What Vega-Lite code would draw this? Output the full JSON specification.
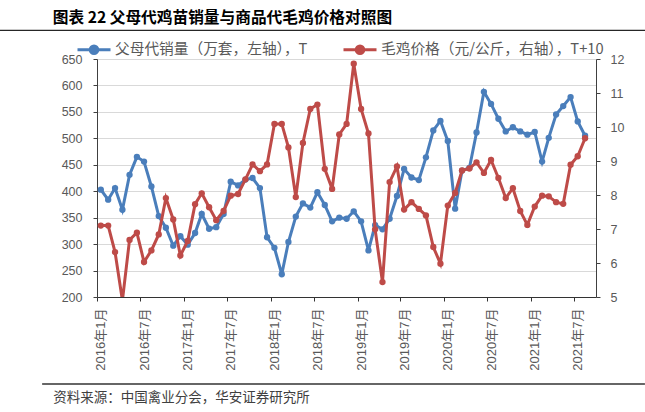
{
  "$schema": "https://vega.github.io/schema/vega-lite/v6.json",
  "width": 499,
  "height": 238,
  "autosize": "none",
  "padding": {"left": 97, "top": 59, "right": 49, "bottom": 115},
  "config": {"view": {"stroke": null}, "font": "Liberation Sans"},
  "title": {
    "text": "图表 22 父母代鸡苗销量与商品代毛鸡价格对照图",
    "anchor": "start",
    "frame": "group",
    "dx": -44.3,
    "dy": 3,
    "font": "Noto Sans CJK SC",
    "fontSize": 15.7,
    "fontWeight": "bold",
    "color": "#000000",
    "offset": 6
  },
  "data": {
    "values": [
      {"m": "2016-01-01", "sales": 403, "price": 7.10},
      {"m": "2016-02-01", "sales": 384, "price": 7.10},
      {"m": "2016-03-01", "sales": 406, "price": 6.32},
      {"m": "2016-04-01", "sales": 365, "price": 4.9},
      {"m": "2016-05-01", "sales": 431, "price": 6.68},
      {"m": "2016-06-01", "sales": 465, "price": 6.89},
      {"m": "2016-07-01", "sales": 456, "price": 6.03},
      {"m": "2016-08-01", "sales": 409, "price": 6.37},
      {"m": "2016-09-01", "sales": 353, "price": 6.84},
      {"m": "2016-10-01", "sales": 331, "price": 7.91},
      {"m": "2016-11-01", "sales": 297, "price": 7.28},
      {"m": "2016-12-01", "sales": 315, "price": 6.22},
      {"m": "2017-01-01", "sales": 299, "price": 6.65},
      {"m": "2017-02-01", "sales": 321, "price": 7.73},
      {"m": "2017-03-01", "sales": 357, "price": 8.05},
      {"m": "2017-04-01", "sales": 329, "price": 7.64},
      {"m": "2017-05-01", "sales": 332, "price": 7.26},
      {"m": "2017-06-01", "sales": 357, "price": 7.53},
      {"m": "2017-07-01", "sales": 418, "price": 7.98},
      {"m": "2017-08-01", "sales": 411, "price": 8.03},
      {"m": "2017-09-01", "sales": 422, "price": 8.46},
      {"m": "2017-10-01", "sales": 425, "price": 8.90},
      {"m": "2017-11-01", "sales": 406, "price": 8.70},
      {"m": "2017-12-01", "sales": 313, "price": 8.90},
      {"m": "2018-01-01", "sales": 293, "price": 10.09},
      {"m": "2018-02-01", "sales": 243, "price": 10.09},
      {"m": "2018-03-01", "sales": 304, "price": 9.40},
      {"m": "2018-04-01", "sales": 352, "price": 7.94},
      {"m": "2018-05-01", "sales": 377, "price": 9.53},
      {"m": "2018-06-01", "sales": 369, "price": 10.53},
      {"m": "2018-07-01", "sales": 398, "price": 10.66},
      {"m": "2018-08-01", "sales": 374, "price": 8.77},
      {"m": "2018-09-01", "sales": 343, "price": 8.18},
      {"m": "2018-10-01", "sales": 350, "price": 9.78},
      {"m": "2018-11-01", "sales": 348, "price": 10.09},
      {"m": "2018-12-01", "sales": 362, "price": 11.86},
      {"m": "2019-01-01", "sales": 343, "price": 10.53},
      {"m": "2019-02-01", "sales": 288, "price": 9.81},
      {"m": "2019-03-01", "sales": 336, "price": 6.99},
      {"m": "2019-04-01", "sales": 328, "price": 5.44},
      {"m": "2019-05-01", "sales": 348, "price": 8.38},
      {"m": "2019-06-01", "sales": 391, "price": 8.84},
      {"m": "2019-07-01", "sales": 442, "price": 7.57},
      {"m": "2019-08-01", "sales": 426, "price": 7.79},
      {"m": "2019-09-01", "sales": 421, "price": 7.59},
      {"m": "2019-10-01", "sales": 464, "price": 7.40},
      {"m": "2019-11-01", "sales": 515, "price": 6.47},
      {"m": "2019-12-01", "sales": 533, "price": 5.98},
      {"m": "2020-01-01", "sales": 495, "price": 7.69},
      {"m": "2020-02-01", "sales": 367, "price": 8.06},
      {"m": "2020-03-01", "sales": 439, "price": 8.72},
      {"m": "2020-04-01", "sales": 444, "price": 8.78},
      {"m": "2020-05-01", "sales": 511, "price": 8.96},
      {"m": "2020-06-01", "sales": 588, "price": 8.65},
      {"m": "2020-07-01", "sales": 565, "price": 9.03},
      {"m": "2020-08-01", "sales": 537, "price": 8.50},
      {"m": "2020-09-01", "sales": 513, "price": 7.91},
      {"m": "2020-10-01", "sales": 521, "price": 8.20},
      {"m": "2020-11-01", "sales": 513, "price": 7.53},
      {"m": "2020-12-01", "sales": 507, "price": 7.12},
      {"m": "2021-01-01", "sales": 512, "price": 7.66},
      {"m": "2021-02-01", "sales": 456, "price": 7.98},
      {"m": "2021-03-01", "sales": 501, "price": 7.96},
      {"m": "2021-04-01", "sales": 545, "price": 7.79},
      {"m": "2021-05-01", "sales": 561, "price": 7.74},
      {"m": "2021-06-01", "sales": 578, "price": 8.89},
      {"m": "2021-07-01", "sales": 532, "price": 9.14},
      {"m": "2021-08-01", "sales": 505, "price": 9.67}
    ]
  },
  "layer": [
    {
      "data": {"values": [{"rule": "bottom"}]},
      "mark": {"type": "rule", "color": "#333333", "strokeWidth": 1.3},
      "encoding": {
        "x": {"datum": {"year": 2015, "month": 4, "date": 29, "utc": true}, "type": "temporal"},
        "x2": {"datum": {"year": 2022, "month": 4, "date": 10, "utc": true}},
        "y": {"datum": 35.5, "type": "quantitative", "scale": {"domain": [200, 650]}, "axis": null}
      }
    },
    {
      "data": {"values": [{"frame": "top"}]},
      "mark": {"type": "rect", "fill": "transparent", "stroke": "#262626", "strokeWidth": 1.3},
      "encoding": {
        "x": {"datum": {"year": 2014, "month": 10, "date": 1, "utc": true}, "type": "temporal"},
        "x2": {"datum": {"year": 2022, "month": 6, "date": 1, "utc": true}},
        "y": {"datum": 704, "type": "quantitative", "scale": {"domain": [200, 650]}, "axis": null},
        "y2": {"datum": -150}
      }
    },
    {
      "mark": {"type": "line", "strokeWidth": 3, "point": {"filled": true, "size": 40}},
      "encoding": {
        "x": {
          "field": "m",
          "type": "temporal",
          "scale": {"type": "utc", "domain": [{"year": 2015, "month": 12, "date": 16, "utc": true}, {"year": 2021, "month": 9, "date": 16, "utc": true}]},
          "axis": {
            "values": [
              {"year": 2016, "month": 1, "date": 1, "utc": true},
              {"year": 2016, "month": 7, "date": 1, "utc": true},
              {"year": 2017, "month": 1, "date": 1, "utc": true},
              {"year": 2017, "month": 7, "date": 1, "utc": true},
              {"year": 2018, "month": 1, "date": 1, "utc": true},
              {"year": 2018, "month": 7, "date": 1, "utc": true},
              {"year": 2019, "month": 1, "date": 1, "utc": true},
              {"year": 2019, "month": 7, "date": 1, "utc": true},
              {"year": 2020, "month": 1, "date": 1, "utc": true},
              {"year": 2020, "month": 7, "date": 1, "utc": true},
              {"year": 2021, "month": 1, "date": 1, "utc": true},
              {"year": 2021, "month": 7, "date": 1, "utc": true}
            ],
            "labelExpr": "utcFormat(datum.value, '%Y年%-m月')",
            "labelAngle": 270,
            "labelFont": "Liberation Sans, Noto Sans CJK SC",
            "labelFontSize": 13,
            "labelColor": "#595959",
            "labelPadding": 7,
            "labelOffset": 3.6,
            "tickOffset": -3.6,
            "tickSize": 4,
            "tickColor": "#333333",
            "domainColor": "#333333",
            "grid": false,
            "title": "资料来源：中国禽业分会，华安证券研究所",
            "titleFont": "Noto Sans CJK SC",
            "titleFontSize": 13.5,
            "titleFontWeight": "normal",
            "titleColor": "#404040",
            "titleAnchor": "start",
            "titleAlign": "left",
            "titleBaseline": "middle",
            "titleX": -44.3,
            "titleY": 100.5
          }
        },
        "y": {
          "field": "sales",
          "type": "quantitative",
          "scale": {"domain": [200, 650]},
          "axis": {
            "orient": "left",
            "values": [200, 250, 300, 350, 400, 450, 500, 550, 600, 650],
            "grid": true,
            "gridColor": "#d9d9d9",
            "domainColor": "#404040",
            "tickColor": "#404040",
            "tickSize": 4,
            "labelPadding": 11,
            "labelColor": "#595959",
            "labelFontSize": 12.5,
            "title": null
          }
        },
        "color": {
          "datum": "父母代销量（万套，左轴），T",
          "scale": {"domain": ["父母代销量（万套，左轴），T", "毛鸡价格（元/公斤，右轴），T+10"], "range": ["#4A7EBB", "#BE4B48"]},
          "legend": {
            "orient": "none",
            "legendX": -21,
            "legendY": -27.3,
            "padding": 0,
            "direction": "horizontal",
            "title": null,
            "symbolType": "M-1,0H1M-0.23,0A0.23,0.23,0,1,1,0.23,0A0.23,0.23,0,1,1,-0.23,0Z",
            "symbolSize": 1089,
            "symbolStrokeWidth": 3,
            "labelFont": "Noto Sans CJK SC",
            "labelFontSize": 14.7,
            "labelColor": "#595959",
            "labelOffset": 3,
            "columnPadding": 29,
            "labelLimit": 0,
            "encode": {
              "symbols": {
                "update": {
                  "fill": {"scale": "color", "field": "value"},
                  "stroke": {"scale": "color", "field": "value"}
                }
              }
            }
          }
        }
      }
    },
    {
      "mark": {"type": "line", "strokeWidth": 3, "clip": true, "point": {"filled": true, "size": 40}},
      "encoding": {
        "x": {"field": "m", "type": "temporal"},
        "y": {
          "field": "price",
          "type": "quantitative",
          "scale": {"domain": [5, 12]},
          "axis": {
            "orient": "right",
            "values": [5, 6, 7, 8, 9, 10, 11, 12],
            "grid": false,
            "domainColor": "#404040",
            "tickColor": "#404040",
            "tickSize": 4,
            "labelPadding": 10,
            "labelColor": "#595959",
            "labelFontSize": 12.5,
            "title": null
          }
        },
        "color": {"datum": "毛鸡价格（元/公斤，右轴），T+10"}
      }
    }
  ],
  "resolve": {"scale": {"y": "independent"}}
}
